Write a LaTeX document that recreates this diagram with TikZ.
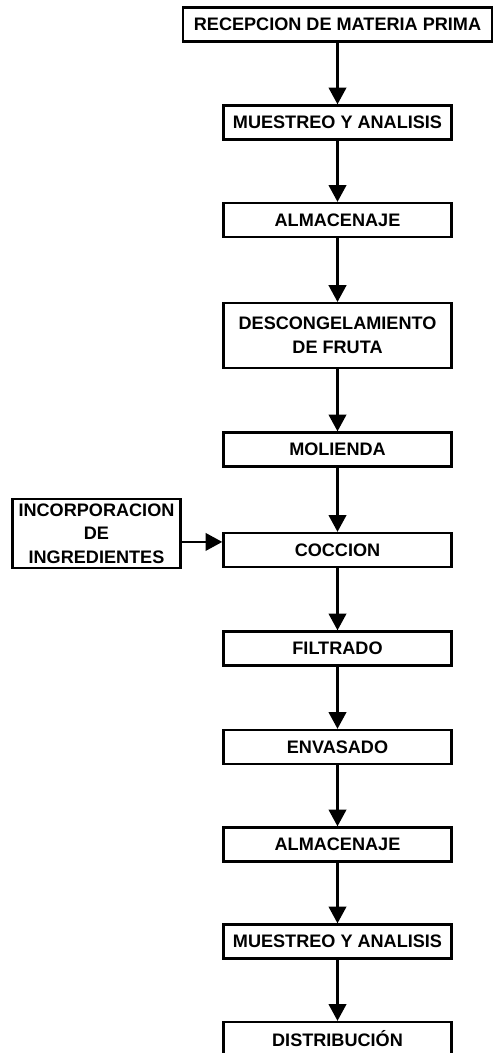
\documentclass[tikz,border=0pt]{standalone}
\usepackage{fontspec}
\setmainfont{Liberation Sans}
\usetikzlibrary{arrows.meta}

\begin{document}
\begin{tikzpicture}[x=0.02cm,y=-0.02cm,
    caja/.style={draw,line width=1.4pt,minimum width=129.8pt,minimum height=19.3pt,
      inner sep=1pt,align=center,font=\fontsize{10.3}{13.4}\selectfont\bfseries},
    flecha/.style={line width=1.2pt,-{Triangle[width=10pt,length=9.5pt]}}]
    \clip (0,0) rectangle (493,1053);
    \node[caja,minimum width=175.7pt] (rec) at (337.5,24.5) {RECEPCION DE MATERIA PRIMA};
    \node[caja] (mue1) at (337.5,122.5) {MUESTREO Y ANALISIS};
    \node[caja] (alm1) at (337.5,220) {ALMACENAJE};
    \node[caja,minimum height=36.8pt] (desc) at (337.5,335.5) {DESCONGELAMIENTO\\DE FRUTA};
    \node[caja] (mol) at (337.5,449.5) {MOLIENDA};
    \node[caja] (coc) at (337.5,550) {COCCION};
    \node[caja] (fil) at (337.5,648.5) {FILTRADO};
    \node[caja] (env) at (337.5,747) {ENVASADO};
    \node[caja] (alm2) at (337.5,844.5) {ALMACENAJE};
    \node[caja] (mue2) at (337.5,941.5) {MUESTREO Y ANALISIS};
    \node[caja] (dist) at (337.5,1039) {DISTRIBUCIÓN};
    \node[caja,minimum width=95.8pt,minimum height=39.1pt] (inc) at (96.5,533.5)
      {INCORPORACION\\DE\\INGREDIENTES};
    \foreach \a/\b in {rec/mue1,mue1/alm1,alm1/desc,desc/mol,mol/coc,
                       coc/fil,fil/env,env/alm2,alm2/mue2,mue2/dist}
      \draw[flecha] (\a) -- (\b);
    \coordinate (entra) at ([yshift=-4.8pt]inc.east);
    \draw[flecha] (entra) -- (entra -| coc.west);
  \end{tikzpicture}
\end{document}
